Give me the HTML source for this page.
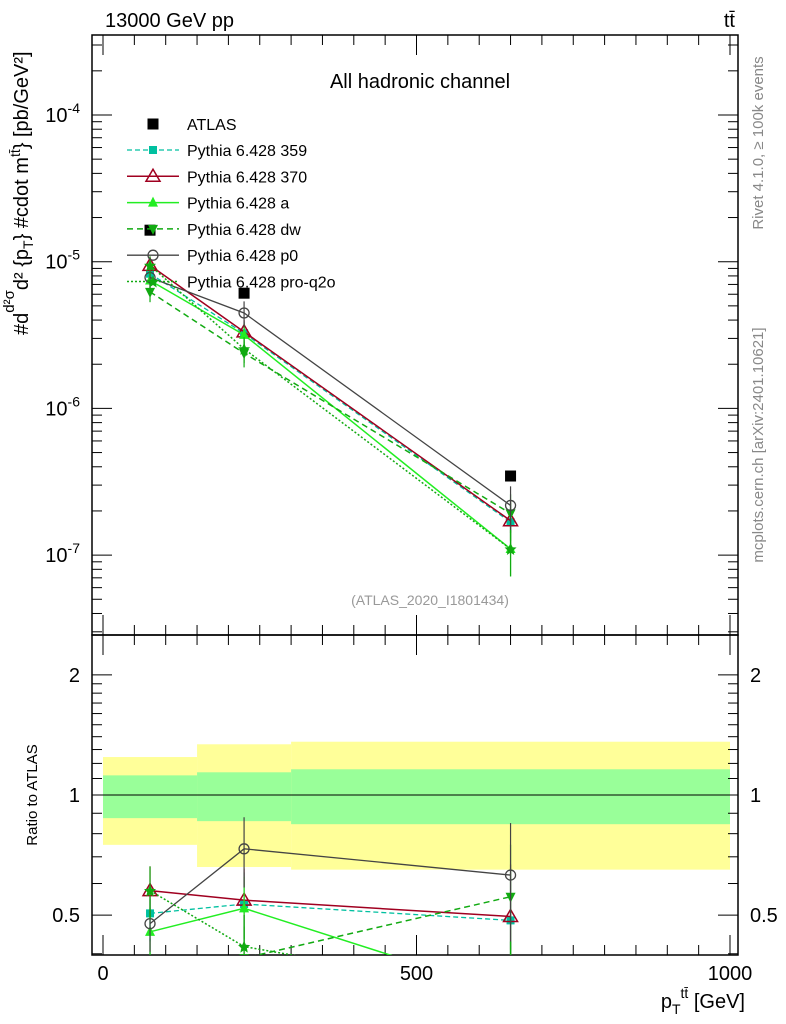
<!DOCTYPE html>
<html><head><meta charset="utf-8"><style>
body{margin:0;background:#fff;}
svg{display:block;font-family:"Liberation Sans",sans-serif;}
</style></head><body>
<svg id="c" width="786" height="1024" xmlns="http://www.w3.org/2000/svg"></svg>
<script>
const xCenters=[75,225,650];
const binEdges=[0,150,300,1000];
const atlas=[1.64e-5,6.1e-6,3.46e-7];
const bandYellowHi=[1.245,1.34,1.36];
const bandYellowLo=[0.75,0.66,0.65];
const bandGreenHi=[1.12,1.14,1.16];
const bandGreenLo=[0.875,0.86,0.845];
const r359=[0.505,0.533,0.485];
const r370=[0.576,0.545,0.496];
const rA=[0.454,0.52,0.318];
const rDw=[0.38,0.39,0.556];
const rP0=[0.476,0.733,0.63];
const rQ2o=[0.576,0.417,0.318];
const errRel=[0.15,0.2,0.35];
const yTicksMain=["-7","-6","-5","-4"];
const xTickLabels=["0","500","1000"];
const ratioTickLabels=["0.5","1","2"];

const S=document.getElementById('c');const NS='http://www.w3.org/2000/svg';
function el(t,a,p){const e=document.createElementNS(NS,t);for(const k in a)e.setAttribute(k,a[k]);(p||S).appendChild(e);return e;}
const L=92,R=738,T=35,M=635,B=955;
const X=v=>103+v*0.627;
const Y=v=>115-(Math.log10(v)+4)*146.7;
const YR=v=>795-Math.log10(v)*399;
function clipRect(id,y0,y1){const d=el('clipPath',{id:id});el('rect',{x:L,y:y0,width:R-L,height:y1-y0},d);}
clipRect('cm',T,M);clipRect('cr',M,B);
for(let i=0;i<3;i++){
 let r=el('rect',{x:X(binEdges[i]),y:YR(bandYellowHi[i]),width:X(binEdges[i+1])-X(binEdges[i]),height:YR(bandYellowLo[i])-YR(bandYellowHi[i]),fill:'#ffff99'});
 
 r=el('rect',{x:X(binEdges[i]),y:YR(bandGreenHi[i]),width:X(binEdges[i+1])-X(binEdges[i]),height:YR(bandGreenLo[i])-YR(bandGreenHi[i]),fill:'#99ff99'});
 
}
el('line',{x1:L,x2:R,y1:YR(1),y2:YR(1),stroke:'#000','stroke-width':1});
el('rect',{x:L,y:T,width:R-L,height:M-T,fill:'none',stroke:'#000','stroke-width':1.5});
el('rect',{x:L,y:M,width:R-L,height:B-M,fill:'none',stroke:'#000','stroke-width':1.5});
for(let e=-8;e<=-4;e++)for(let m=1;m<10;m++){const v=m*Math.pow(10,e);const y=Y(v);if(y<T||y>M)continue;const len=m==1?20:10;
 el('line',{x1:L,x2:L+len,y1:y,y2:y,stroke:'#000'});el('line',{x1:R,x2:R-len,y1:y,y2:y,stroke:'#000'});}
yTicksMain.forEach((s,i)=>{const y=Y(Math.pow(10,-7+i));const t=el('text',{x:L-12,y:y+7,'text-anchor':'end','font-size':20});t.innerHTML='10<tspan dy="-9" font-size="14">'+s+'</tspan>';});
[0.4,0.5,0.6,0.7,0.8,0.9,1,1.1,1.2,1.3,1.4,1.5,1.6,1.7,1.8,1.9,2].forEach(v=>{const y=YR(v);const len=(v==0.5||v==1||v==2)?20:10;el('line',{x1:L,x2:L+len,y1:y,y2:y,stroke:'#000'});el('line',{x1:R,x2:R-len,y1:y,y2:y,stroke:'#000'});});
ratioTickLabels.forEach(s=>{const y=YR(parseFloat(s))+7;let t=el('text',{x:L-12,y:y,'text-anchor':'end','font-size':20});t.textContent=s;
 t=el('text',{x:R+12,y:y,'font-size':20});t.textContent=s;});
for(let v=0;v<=1000;v+=50){const x=X(v);const len=v%500==0?20:10;[[T,1],[M,-1],[M,1],[B,-1]].forEach(([y,d])=>el('line',{x1:x,x2:x,y1:y,y2:y+d*len,stroke:'#000'}));}
xTickLabels.forEach(s=>{const t=el('text',{x:X(+s),y:980,'text-anchor':'middle','font-size':20});t.textContent=s;});
function marker(type,x,y,c,g){
 if(type=='sq')el('rect',{x:x-4,y:y-4,width:8,height:8,fill:c},g);
 else if(type=='bsq')el('rect',{x:x-5.5,y:y-5.5,width:11,height:11,fill:c},g);
 else if(type=='otri')el('path',{d:`M${x} ${y-7}L${x+7} ${y+5}L${x-7} ${y+5}Z`,fill:'none',stroke:c,'stroke-width':1.5},g);
 else if(type=='tri')el('path',{d:`M${x} ${y-6}L${x+5} ${y+4}L${x-5} ${y+4}Z`,fill:c},g);
 else if(type=='dtri')el('path',{d:`M${x} ${y+6}L${x+5} ${y-4}L${x-5} ${y-4}Z`,fill:c},g);
 else if(type=='circ')el('circle',{cx:x,cy:y,r:5,fill:'none',stroke:c,'stroke-width':1.3},g);
 else if(type=='star')el('path',{d:`M${x} ${y-6}L${x+1.8} ${y-1.8}L${x+6} ${y-1.5}L${x+2.8} ${y+1.5}L${x+3.7} ${y+6}L${x} ${y+3.5}L${x-3.7} ${y+6}L${x-2.8} ${y+1.5}L${x-6} ${y-1.5}L${x-1.8} ${y-1.8}Z`,fill:c},g);
}
const series=[
 {n:'Pythia 6.428 359',r:r359,c:'#00c0a0',d:'5,3',m:'sq',w:1.3},
 {n:'Pythia 6.428 370',r:r370,c:'#a00020',d:'',m:'otri',w:1.5},
 {n:'Pythia 6.428 a',r:rA,c:'#22ee22',d:'',m:'tri',w:1.5},
 {n:'Pythia 6.428 dw',r:rDw,c:'#11aa11',d:'6,4',m:'dtri',w:1.5},
 {n:'Pythia 6.428 p0',r:rP0,c:'#444',d:'',m:'circ',w:1.3},
 {n:'Pythia 6.428 pro-q2o',r:rQ2o,c:'#11aa11',d:'2,2',m:'star',w:1.5}];
series.forEach((s,si)=>{
 [['cm',(i)=>Y(atlas[i]*s.r[i]),(i,f)=>Y(atlas[i]*s.r[i]*f)],['cr',(i)=>YR(s.r[i]),(i,f)=>YR(s.r[i]*f)]].forEach(([clip,fy,fe],pi)=>{
  const g=el('g',{'clip-path':`url(#${clip})`});
  
  const pts=xCenters.map((x,i)=>X(x)+','+fy(i)).join(' ');
  el('polyline',{points:pts,fill:'none',stroke:s.c,'stroke-width':s.w,'stroke-dasharray':s.d},g);
  xCenters.forEach((x,i)=>{const px=X(x);el('line',{x1:px,x2:px,y1:fe(i,1+errRel[i]),y2:fe(i,Math.max(0.05,1-errRel[i])),stroke:s.c,'stroke-width':1.2},g);marker(s.m,px,fy(i),s.c,g);});
 });
});
atlas.forEach((v,i)=>{const g=el('g',{});marker('bsq',X(xCenters[i]),Y(v),'#000',g);});
const lg=el('g',{});
let ly=124;
marker('bsq',153,ly,'#000',lg);let t=el('text',{x:187,y:ly+6,'font-size':16},lg);t.textContent='ATLAS';
series.forEach((s,i)=>{const y=150+i*26.3;el('line',{x1:127,x2:179,y1:y,y2:y,stroke:s.c,'stroke-width':s.w,'stroke-dasharray':s.d},lg);marker(s.m,153,y,s.c,lg);
 const tt=el('text',{x:187,y:y+6,'font-size':16},lg);tt.textContent=s.n;});
function txt(x,y,s,a,name){const e=el('text',Object.assign({x:x,y:y},a));e.textContent=s;return e;}
txt(105,27,'13000 GeV pp',{'font-size':20},'energy-label');
txt(735,27,'tt̄',{'font-size':20,'text-anchor':'end'},'process-label');
txt(420,88,'All hadronic channel',{'font-size':20,'text-anchor':'middle'},'plot-title');
txt(430,605,'(ATLAS_2020_I1801434)',{'font-size':14,'text-anchor':'middle',fill:'#999'},'analysis-id');
txt(0,0,'Rivet 4.1.0, ≥ 100k events',{'font-size':15,fill:'#888','text-anchor':'middle',transform:'translate(763,143) rotate(-90)'},'rivet-label');
txt(0,0,'mcplots.cern.ch [arXiv:2401.10621]',{'font-size':15,fill:'#888','text-anchor':'middle',transform:'translate(763,445) rotate(-90)'},'mcplots-label');
txt(0,0,'Ratio to ATLAS',{'font-size':15,'text-anchor':'middle',transform:'translate(37,795) rotate(-90)'},'ratio-y-title');
const yt=el('text',{'font-size':20,transform:'translate(28,335) rotate(-90)'});
yt.innerHTML='#d<tspan dy="-14" font-size="15">d²σ</tspan><tspan dy="14">d² {p</tspan><tspan font-size="14" dy="5">T</tspan><tspan dy="-5">} #cdot m</tspan><tspan font-size="14" dy="-8">tt̄</tspan><tspan dy="8">} [pb/GeV²]</tspan>';
const xt=el('text',{x:745,y:1008,'font-size':20,'text-anchor':'end'});
xt.innerHTML='p<tspan font-size="14" dy="6">T</tspan><tspan font-size="14" dy="-16">tt̄</tspan><tspan dy="10"> [GeV]</tspan>';
</script>
</body></html>
